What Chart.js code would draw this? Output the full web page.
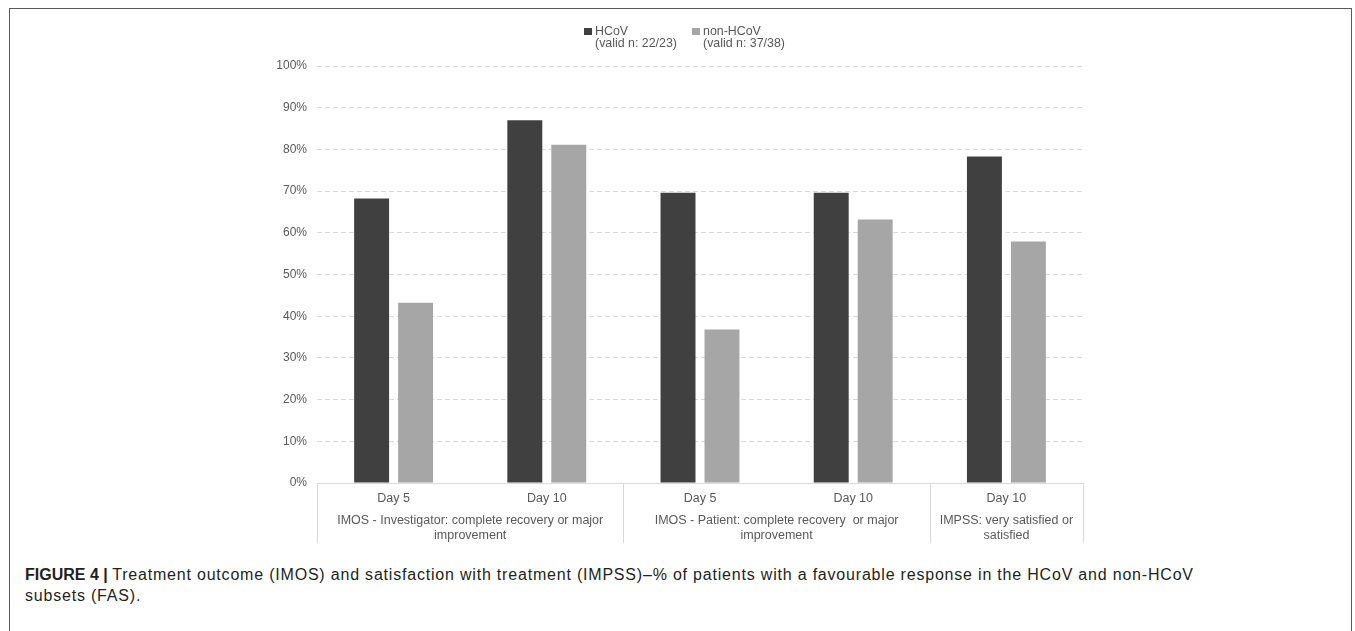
<!DOCTYPE html>
<html>
<head>
<meta charset="utf-8">
<script src="https://cdn.jsdelivr.net/npm/chart.js@4"></script>
<style>
  body { margin: 0; background: #fff; font-family: "Liberation Sans", Arial, sans-serif; }
  #frame { position: absolute; left: 9px; top: 8px; width: 1341px; height: 700px; border: 1px solid #5a5a5a; border-bottom: none; }
  #wrap { position: absolute; left: 0; top: 0; width: 1355px; height: 560px; }
  #legend { position: absolute; top: 25px; left: 584px; font-size: 12.4px; color: #595959; line-height: 12px; }
  .item { position: absolute; white-space: nowrap; }
  .box { position: absolute; width: 8px; height: 7px; top: 3px; }
  .txt { position: absolute; left: 11px; top: 0; }
  #caption { position: absolute; left: 25px; top: 564px; font-size: 16px; line-height: 21px; color: #231f20; white-space: nowrap; }
  #caption span { letter-spacing: 0.8px; }
</style>
</head>
<body>
<div id="frame"></div>
<div id="wrap"><canvas id="myChart" width="1355" height="560"></canvas></div>
<div id="legend"></div>
<div id="caption"><b>FIGURE 4 |</b> <span>Treatment outcome (IMOS) and satisfaction with treatment (IMPSS)–% of patients with a favourable response in the HCoV and non-HCoV<br>subsets (FAS).</span></div>

<script>
let dayLabels = ['Day 5', 'Day 10', 'Day 5', 'Day 10', 'Day 10'];
let hcov = [68.2, 87.0, 69.6, 69.6, 78.3];
let nonHcov = [43.2, 81.1, 36.8, 63.2, 57.9];

let seriesNames = ['HCoV', 'non-HCoV'];
let seriesNotes = ['(valid n: 22/23)', '(valid n: 37/38)'];
let seriesColors = ['#404040', '#a6a6a6'];

// outer category groups, and how many day labels each one covers
let groupLabels = [
  ['IMOS - Investigator: complete recovery or major', 'improvement'],
  ['IMOS - Patient: complete recovery  or major', 'improvement'],
  ['IMPSS: very satisfied or', 'satisfied']
];
let groupSpans = [2, 2, 1];

let yMax = 100;
let yStep = 10;

let lineColor = '#d9d9d9';
let textColor = '#595959';

// second row of the category axis: group names and separators
let groupAxis = {
  id: 'groupAxis',
  afterDraw(chart) {
    let ctx = chart.ctx;
    let x = chart.scales.x;
    let area = chart.chartArea;
    let catW = (area.right - area.left) / dayLabels.length;
    let top = area.bottom;
    let bottom = area.bottom + 60;

    ctx.save();
    ctx.strokeStyle = lineColor;
    ctx.lineWidth = 1;
    ctx.fillStyle = textColor;
    ctx.font = '12.5px "Liberation Sans", Arial, sans-serif';
    ctx.textAlign = 'center';
    ctx.textBaseline = 'middle';

    let start = 0;
    for (let g = 0; g < groupLabels.length; g++) {
      let left = x.getPixelForValue(start) - catW / 2;
      let right = x.getPixelForValue(start + groupSpans[g] - 1) + catW / 2;
      ctx.beginPath();
      ctx.moveTo(Math.round(left) + 0.5, top);
      ctx.lineTo(Math.round(left) + 0.5, bottom);
      ctx.moveTo(Math.round(right) + 0.5, top);
      ctx.lineTo(Math.round(right) + 0.5, bottom);
      ctx.stroke();
      let lines = groupLabels[g];
      for (let i = 0; i < lines.length; i++) {
        ctx.fillText(lines[i], (left + right) / 2, top + 38 + i * 15);
      }
      start += groupSpans[g];
    }
    ctx.restore();
  }
};

window.onload = function () {
  let legend = document.getElementById('legend');
  let offsets = [0, 108];
  for (let i = 0; i < seriesNames.length; i++) {
    let item = document.createElement('div');
    item.className = 'item';
    item.style.left = offsets[i] + 'px';
    item.innerHTML = '<div class="box" style="background:' + seriesColors[i] + '"></div>' +
      '<div class="txt">' + seriesNames[i] + '<br>' + seriesNotes[i] + '</div>';
    legend.appendChild(item);
  }

  let ctx = document.getElementById('myChart').getContext('2d');

  window.myChart = new Chart(ctx, {
    type: 'bar',
    data: {
      labels: dayLabels,
      datasets: [
        { label: seriesNames[0], data: hcov, backgroundColor: seriesColors[0] },
        { label: seriesNames[1], data: nonHcov, backgroundColor: seriesColors[1] }
      ]
    },
    options: {
      responsive: false,
      animation: false,
      categoryPercentage: 0.574,
      barPercentage: 0.795,
      layout: { padding: { left: 250, right: 272, top: 66, bottom: 7 } },
      plugins: {
        legend: { display: false },
        tooltip: { enabled: false }
      },
      scales: {
        x: {
          grid: { display: false, drawTicks: false },
          border: { display: true, color: lineColor, width: 1 },
          ticks: {
            color: textColor,
            font: { family: '"Liberation Sans", Arial, sans-serif', size: 12.5 },
            padding: 8,
            maxRotation: 0
          },
          afterFit: function (s) { s.height = 70; }
        },
        y: {
          min: 0,
          max: yMax,
          border: { display: false, dash: [5, 3] },
          grid: { color: lineColor, drawTicks: false },
          ticks: {
            stepSize: yStep,
            color: textColor,
            font: { family: '"Liberation Sans", Arial, sans-serif', size: 12 },
            padding: 10,
            callback: function (v) { return v + '%'; }
          },
          afterFit: function (s) { s.width = 67; }
        }
      }
    },
    plugins: [groupAxis]
  });
};
</script>
</body>
</html>
